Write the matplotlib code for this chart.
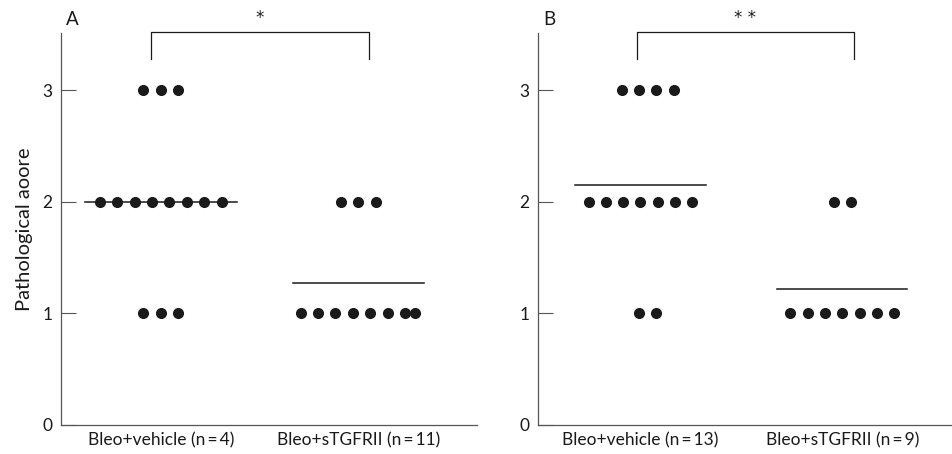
import numpy as np
import matplotlib
matplotlib.use("Agg")
import matplotlib.pyplot as plt

plt.rcParams['font.family'] = ['Lato', 'DejaVu Sans']

# pathological scores, one entry per animal
a_vehicle = [3] * 3 + [2] * 8 + [1] * 3
a_stgfrii = [2] * 3 + [1] * 8
b_vehicle = [3] * 4 + [2] * 7 + [1] * 2
b_stgfrii = [2] * 2 + [1] * 7

a_labels = ['Bleo+vehicle (n\u2009=\u20094)', 'Bleo+sTGFRII (n\u2009=\u200911)']
b_labels = ['Bleo+vehicle (n\u2009=\u200913)', 'Bleo+sTGFRII (n\u2009=\u20099)']
a_sig = '*'
b_sig = '* *'

ink = '#1a1a1a'
spine_col = '#555555'


def dot_row(center, n, step=0.167, squeeze_last=False):
    xs = center + (np.arange(n) - (n - 1) / 2) * step
    if squeeze_last and n > 1:
        xs[-1] = xs[-2] + step * 0.6
    return xs


def panel(ax, groups, centers, labels, sig, letter, bracket, half_w):
    for g, (scores, c) in enumerate(zip(groups, centers)):
        scores = np.array(scores)
        for s in sorted(set(scores)):
            n = int((scores == s).sum())
            squeeze = (letter == 'A' and g == 1 and s == 1)
            xs = dot_row(c, n, squeeze_last=squeeze)
            if squeeze:
                xs = xs + 0.03
            if letter == 'B' and g == 0 and s != 2:
                xs = xs + 0.07
            ax.scatter(xs, [s] * n, s=64, color=ink, zorder=3, linewidths=0)
        m = scores.mean()
        ax.plot([c - half_w[g], c + half_w[g]], [m, m], color=ink, lw=1.1, zorder=2)

    ax.set_xlim(0, 4)
    ax.set_ylim(0, 3.51)
    ax.set_yticks([0, 1, 2, 3])
    ax.set_xticks(centers)
    ax.set_xticklabels(labels, fontsize=12.5, color=ink)
    ax.tick_params(axis='x', length=0, pad=5)
    ax.tick_params(axis='y', direction='in', length=11, width=0.8,
                   color=spine_col, labelsize=12.5, labelcolor=ink, pad=6)
    for side in ['top', 'right']:
        ax.spines[side].set_visible(False)
    for side in ['left', 'bottom']:
        ax.spines[side].set_color(spine_col)
        ax.spines[side].set_linewidth(0.9)

    x0, x1 = bracket
    ax.plot([x0, x0, x1, x1], [3.28, 3.52, 3.52, 3.28], color=ink, lw=0.9,
            clip_on=False)
    ax.text((x0 + x1) / 2, 3.65, sig, ha='center', va='center', fontsize=12,
            family='DejaVu Sans', color=ink, clip_on=False)
    ax.text(0.05, 3.56, letter, ha='left', va='bottom', fontsize=13.5,
            color=ink, clip_on=False)


fig = plt.figure(figsize=(9.52, 4.54), dpi=100)
ax_a = fig.add_axes([0.064, 0.064, 0.437, 0.863])
ax_b = fig.add_axes([0.565, 0.064, 0.435, 0.863])

panel(ax_a, [a_vehicle, a_stgfrii], [0.96, 2.86], a_labels, a_sig, 'A',
      (0.87, 2.96), [0.73, 0.63])
panel(ax_b, [b_vehicle, b_stgfrii], [0.99, 2.94], b_labels, b_sig, 'B',
      (0.96, 3.05), [0.63, 0.63])

ax_a.set_ylabel('Pathological aoore', fontsize=14.5, color=ink, labelpad=7)

fig.savefig('out.png', dpi=100)
